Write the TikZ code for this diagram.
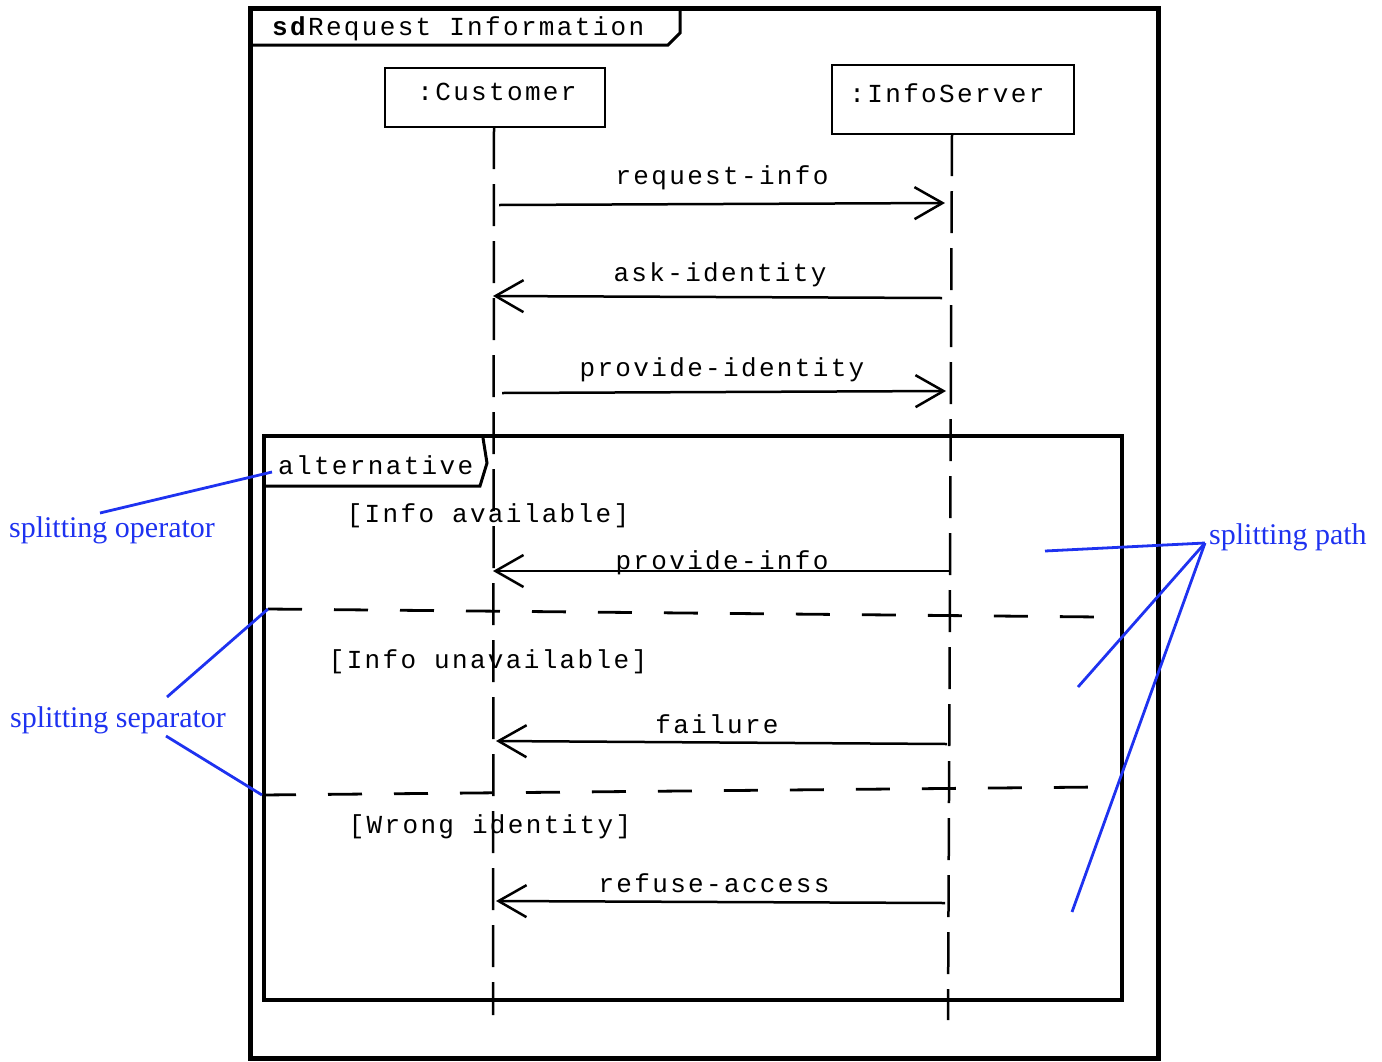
\documentclass[tikz,border=0pt]{standalone}
\usepackage{fontspec}
\setmainfont{Liberation Serif}
\newfontfamily\umlfont{Liberation Mono}[LetterSpace=9]
\usetikzlibrary{arrows.meta}
\definecolor{noteblue}{RGB}{30,50,240}

\begin{document}
\begin{tikzpicture}[x=1pt,y=-1pt,
  uml/.style={font=\umlfont\fontsize{26}{30}\selectfont, text=black, inner sep=0pt},
  lifebox/.style={uml, draw, line width=2.5pt},
  msg/.style={line width=2.5pt, -{Straight Barb[length=28pt,width=32pt,line width=2.5pt]}},
  lifeline/.style={line width=2.5pt, dash pattern=on 42pt off 15pt},
  separator/.style={line width=2.8pt, dash pattern=on 34pt off 32pt},
  tab/.style={line width=3pt, line join=miter},
  note/.style={font=\fontsize{30}{33}\selectfont, text=noteblue, inner sep=0pt},
  noteline/.style={draw=noteblue, line width=2.8pt}]

\useasboundingbox (0,0) rectangle (1382,1061);

% diagram frame and its name tab
\draw[line width=5pt] (250,8) rectangle (1158,1058);
\draw[tab] (252,45) -- (668,45) -- (680,33) -- (680,10);
\node[uml, anchor=west] (title) at (272,29) {\textbf{sd}Request Information};

% lifeline heads
\node[lifebox, minimum width=220pt, minimum height=59pt] (cust) at (495,97.5) {};
\node[uml] (custlabel) at (497,92) {:Customer};
\node[lifebox, minimum width=242pt, minimum height=69pt] (info) at (953,99.5) {};
\node[uml] (infolabel) at (947,93) {:InfoServer};

% lifelines
\coordinate (custend) at (493,1015);
\coordinate (infoend) at (948,1020);
\draw[lifeline] (494,127) -- (custend);
\draw[lifeline] (952,134) -- (infoend);

% messages
\coordinate (m1a) at (499,205);  \coordinate (m1b) at (945,203);
\coordinate (m2a) at (942,298);  \coordinate (m2b) at (493,296);
\coordinate (m3a) at (502,393);  \coordinate (m3b) at (946,391);
\coordinate (m4a) at (949,571);  \coordinate (m4b) at (493,571);
\coordinate (m5a) at (947,744);  \coordinate (m5b) at (496,741);
\coordinate (m6a) at (945,903);  \coordinate (m6b) at (496,901);
\draw[msg] (m1a) -- (m1b);
\draw[msg] (m2a) -- (m2b);
\draw[msg] (m3a) -- (m3b);
\draw[msg] (m4a) -- (m4b);
\draw[msg] (m5a) -- (m5b);
\draw[msg] (m6a) -- (m6b);
\node[uml] (l1) at (722,178) {request-info};
\node[uml] (l2) at (720,275) {ask-identity};
\node[uml] (l3) at (722,370) {provide-identity};
\node[uml] (l4) at (722,563) {provide-info};
\node[uml] (l5) at (717,724) {failure};
\node[uml] (l6) at (714,883) {refuse-access};

% combined fragment
\draw[line width=4pt] (264,436) rectangle (1122,1000);
\draw[tab] (266,486) -- (480,486) -- (487,463) -- (483,438);
\node[uml, anchor=west] (alt) at (278,465) {alternative};
\coordinate (s1a) at (268,609); \coordinate (s1b) at (1100,617);
\coordinate (s2a) at (262,795); \coordinate (s2b) at (1100,787);
\draw[separator] (s1a) -- (s1b);
\draw[separator] (s2a) -- (s2b);
\node[uml] (g1) at (488,516) {[Info available]};
\node[uml] (g2) at (488,662) {[Info unavailable]};
\node[uml] (g3) at (490,827) {[Wrong identity]};

% annotations
\node[note] (nop) at (112,530) {splitting operator};
\node[note] (nsep) at (118,720) {splitting separator};
\node[note, anchor=west] (npath) at (1209,537) {splitting path};
\coordinate (op) at (272,472);
\coordinate (pathA) at (1045,551);
\coordinate (pathB) at (1078,687);
\coordinate (pathC) at (1072,912);
\coordinate (hub) at (1205,543);
\draw[noteline] (100,513) -- (op);
\draw[noteline] (167,697) -- (s1a);
\draw[noteline] (166,736) -- (s2a);
\draw[noteline] (hub) -- (pathA);
\draw[noteline] (hub) -- (pathB);
\draw[noteline] (hub) -- (pathC);
\end{tikzpicture}
\end{document}
